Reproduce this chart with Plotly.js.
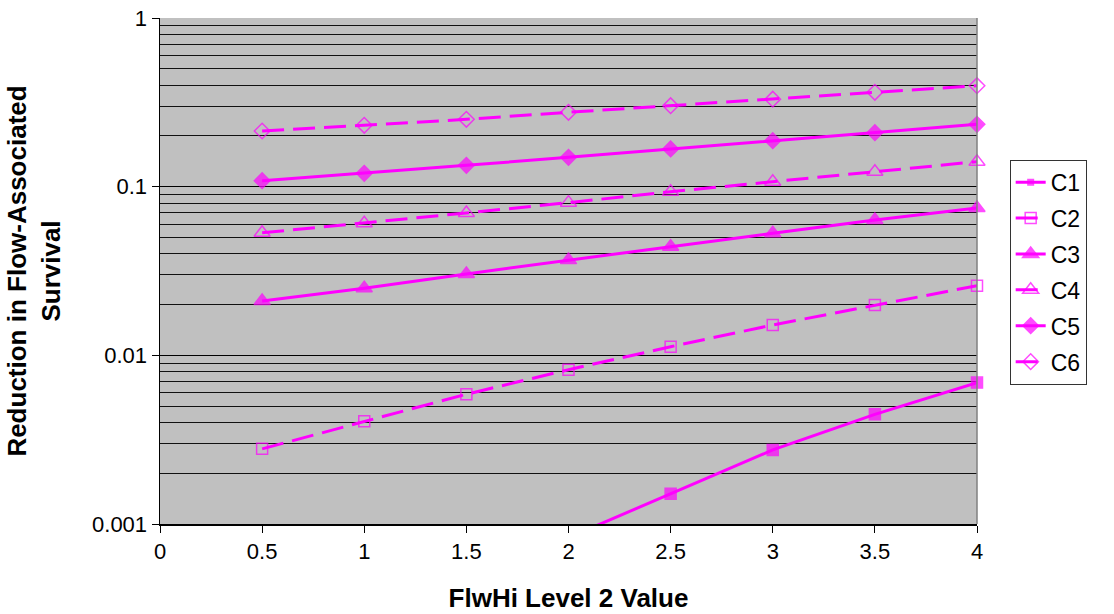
<!DOCTYPE html>
<html>
<head>
<meta charset="utf-8">
<script src="https://cdn.plot.ly/plotly-3.0.1.min.js"></script>
<style>html,body{margin:0;padding:0;background:#fff;}#chart{width:1114px;height:614px;}</style>
</head>
<body>
<div id="chart"></div>
<script>
const xValues = [0.5, 1, 1.5, 2, 2.5, 3, 3.5, 4];
const seriesNames = ["C1", "C2", "C3", "C4", "C5", "C6"];
const c1 = [null, null, null, 0.00083, 0.00151, 0.00275, 0.00447, 0.00689];
const c2 = [0.00279, 0.00406, 0.00588, 0.00822, 0.01125, 0.01513, 0.01988, 0.02588];
const c3 = [0.0210, 0.0250, 0.0304, 0.0367, 0.0441, 0.0529, 0.0634, 0.0747];
const c4 = [0.0533, 0.0607, 0.0698, 0.0804, 0.0933, 0.1070, 0.1227, 0.1406];
const c5 = [0.1085, 0.1200, 0.1338, 0.1493, 0.1673, 0.1873, 0.2089, 0.2343];
const c6 = [0.2138, 0.2310, 0.2507, 0.2760, 0.3020, 0.3300, 0.3626, 0.3968];
const yTickVals = [0.001, 0.01, 0.1, 1];
const yTickText = ["0.001", "0.01", "0.1", "1"];
const xTickVals = [0, 0.5, 1, 1.5, 2, 2.5, 3, 3.5, 4];

const magenta = "#FF00FF";
const seriesData = [c1, c2, c3, c4, c5, c6];
const symbols = ["square", "square-open", "triangle-up", "triangle-up-open", "diamond", "diamond-open"];
const dashes = ["solid", "22px,9px", "solid", "22px,9px", "solid", "22px,9px"];
const sizes = [11, 11, 14, 14, 12, 12];
const yMin = 0.001;

const traces = seriesData.map((vals, i) => ({
  type: "scatter",
  mode: "lines+markers",
  name: seriesNames[i],
  x: xValues,
  y: vals,
  legendgroup: seriesNames[i],
  cliponaxis: false,
  connectgaps: false,
  line: {color: magenta, width: 3, dash: dashes[i]},
  marker: {
    symbol: symbols[i],
    color: magenta,
    size: vals.map(v => (v === null || v < yMin) ? 0 : sizes[i]),
    line: {color: magenta, width: 1.5}
  }
}));

const layout = {
  width: 1114,
  height: 614,
  paper_bgcolor: "#FFFFFF",
  plot_bgcolor: "#C0C0C0",
  font: {family: "Liberation Sans, Arial, sans-serif", color: "#000", size: 22},
  margin: {l: 160, r: 137, t: 18, b: 90, pad: 0},
  showlegend: true,
  legend: {
    x: 1.04, xanchor: "left",
    y: 0.72, yanchor: "top",
    bordercolor: "#333", borderwidth: 1,
    bgcolor: "#FFFFFF",
    font: {size: 23, family: "Liberation Sans, Arial, sans-serif"},
    tracegroupgap: 3,
    traceorder: "grouped"
  },
  xaxis: {
    range: [0, 4],
    tickvals: xTickVals,
    ticktext: xTickVals.map(String),
    ticks: "outside", ticklen: 7, tickcolor: "#000", tickwidth: 1,
    showline: true, linecolor: "#000", linewidth: 1.5,
    showgrid: false, zeroline: false,
    tickfont: {size: 22},
    title: {text: "<b>FlwHi Level 2 Value</b>", font: {size: 26}, standoff: 26}
  },
  yaxis: {
    type: "log",
    range: [-3, 0],
    tickvals: yTickVals,
    ticktext: yTickText,
    ticks: "outside", ticklen: 7, tickcolor: "#000", tickwidth: 1,
    showline: true, linecolor: "#000", linewidth: 1.5,
    showgrid: true, gridcolor: "#000", gridwidth: 1,
    zeroline: false,
    minor: {dtick: "D1", showgrid: true, gridcolor: "#111", gridwidth: 1, ticks: ""},
    tickfont: {size: 22},
    title: {text: "<b>Reduction in Flow-Associated<br>Survival</b>", font: {size: 26}, standoff: 24}
  },
  shapes: [
    {type: "line", xref: "paper", yref: "paper", x0: 1, x1: 1, y0: 0, y1: 1, line: {color: "#808080", width: 1.5}}
  ]
};

Plotly.newPlot("chart", traces, layout, {displayModeBar: false, staticPlot: true});
</script>
</body>
</html>
